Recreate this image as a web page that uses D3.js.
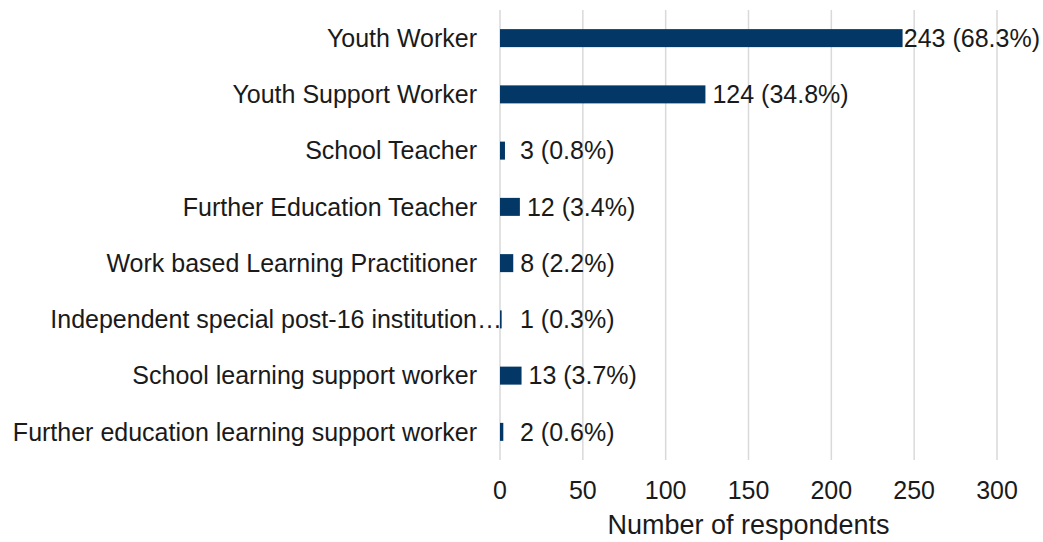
<!DOCTYPE html>
<html>
<head>
<meta charset="utf-8">
<script src="https://cdn.jsdelivr.net/npm/d3@7"></script>
<style>
  body { margin: 0; background: #fff; }
  text { font-family: "Liberation Sans", Arial, sans-serif; fill: #1a1a1a; }
  .grid line { stroke: #d9d9d9; stroke-width: 1.5; }
</style>
</head>
<body>
<div id="chart"></div>
<script>
var roles = ['Youth Worker', 'Youth Support Worker', 'School Teacher', 'Further Education Teacher',
  'Work based Learning Practitioner', 'Independent special post-16 institution\u2026',
  'School learning support worker', 'Further education learning support worker'];
var counts = [243, 124, 3, 12, 8, 1, 13, 2];
var percents = ['68.3%', '34.8%', '0.8%', '3.4%', '2.2%', '0.3%', '3.7%', '0.6%'];
var xTicks = [0, 50, 100, 150, 200, 250, 300];

const width = 1043, height = 542;
const margin = {left: 500, right: 46, top: 10, bottom: 82};
const fontSize = 25;

const data = roles.map((r, i) => ({role: r, count: counts[i], pct: percents[i]}));

const xScale = d3.scaleLinear()
  .domain([0, 300])
  .range([margin.left, width - margin.right]);

const yScale = d3.scaleBand()
  .domain(roles)
  .range([margin.top, height - margin.bottom])
  .paddingInner(0.68)
  .paddingOuter(0.34);

var svg = d3.select('#chart')
  .append('svg')
  .attr('width', width)
  .attr('height', height);

// vertical gridlines
svg.append('g').attr('class', 'grid').selectAll('line')
  .data(xTicks)
  .enter()
    .append('line')
    .attr('x1', d => xScale(d)).attr('x2', d => xScale(d))
    .attr('y1', margin.top).attr('y2', height - margin.bottom);

// bars
svg.append('g').selectAll('rect')
  .data(data)
  .enter()
    .append('rect')
    .attr('x', xScale(0))
    .attr('y', d => yScale(d.role))
    .attr('width', d => Math.max(xScale(d.count) - xScale(0), 1))
    .attr('height', yScale.bandwidth())
    .style('fill', '#033766');

// category labels
svg.append('g').selectAll('text')
  .data(data)
  .enter()
    .append('text')
    .attr('y', d => yScale(d.role) + yScale.bandwidth() / 2)
    .attr('dy', '0.35em')
    .style('font-size', fontSize + 'px')
    .text(d => d.role)
    .each(function(d) {
      const right = xScale(0) - 23;
      // truncated label runs over to the axis in the original
      if (d.role.endsWith('\u2026')) {
        d3.select(this).attr('x', xScale(0) + 2).attr('text-anchor', 'end');
      } else {
        d3.select(this).attr('x', right).attr('text-anchor', 'end');
      }
    });

// value labels
svg.append('g').selectAll('text')
  .data(data)
  .enter()
    .append('text')
    .attr('y', d => yScale(d.role) + yScale.bandwidth() / 2)
    .attr('dy', '0.35em')
    .style('font-size', fontSize + 'px')
    .text(d => d.count + ' (' + d.pct + ')')
    .each(function(d) {
      const w = this.getComputedTextLength();
      let x = Math.max(xScale(d.count) + 7, xScale(0) + 20);
      x = Math.min(x, width - 3 - w);
      d3.select(this).attr('x', x);
    });

// x tick labels
svg.append('g').selectAll('text')
  .data(xTicks)
  .enter()
    .append('text')
    .attr('x', d => xScale(d))
    .attr('y', 499)
    .attr('text-anchor', 'middle')
    .style('font-size', fontSize + 'px')
    .text(d => d);

svg.append('text')
  .attr('x', (xScale(0) + xScale(300)) / 2)
  .attr('y', 534)
  .attr('text-anchor', 'middle')
  .style('font-size', '27px')
  .text('Number of respondents');
</script>
</body>
</html>
